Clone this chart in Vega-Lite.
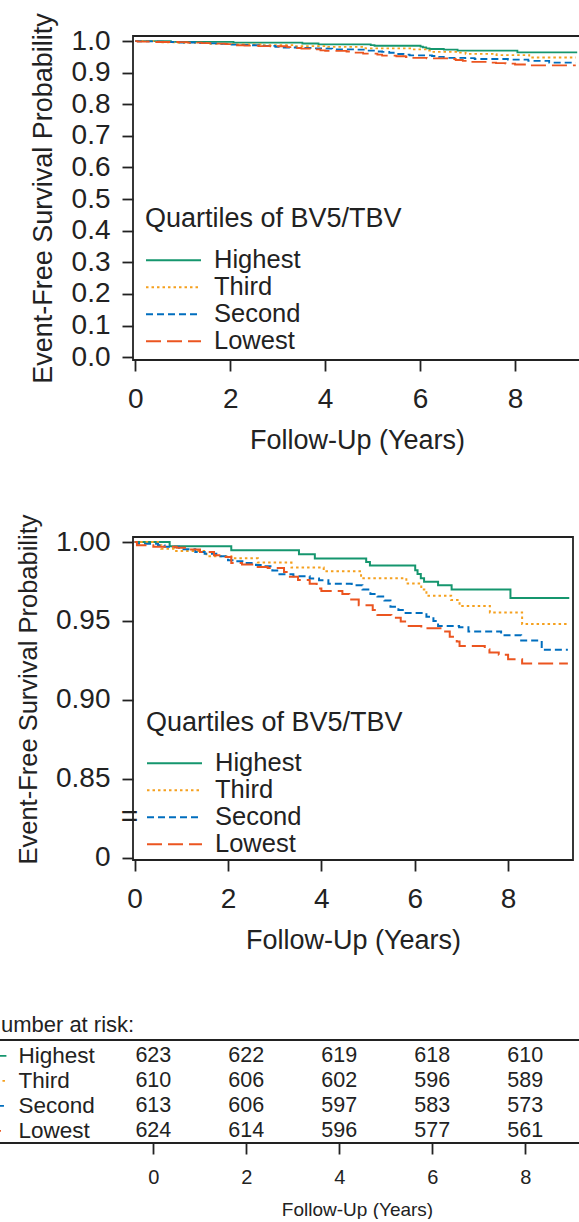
{
  "$schema": "https://vega.github.io/schema/vega-lite/v6.json",
  "padding": {"left": -15, "top": 11, "right": 0, "bottom": 0},
  "background": "white",
  "spacing": 59,
  "config": {
    "font": "Liberation Sans",
    "view": {"stroke": "#222", "strokeWidth": 1.8},
    "axis": {"grid": false, "domain": false, "tickColor": "#222", "tickWidth": 1.8, "tickSize": 11, "labelColor": "#222", "titleColor": "#222", "titleFontWeight": "normal", "labelFont": "Liberation Sans", "titleFont": "Liberation Sans"},
    "legend": {"labelFont": "Liberation Sans", "titleFont": "Liberation Sans", "titleLimit": 500, "labelLimit": 300},
    "text": {"font": "Liberation Sans"}
  },
  "datasets": {
    "km": [
      {"group": "Highest", "t": 0, "s": 1}, {"group": "Highest", "t": 0.75, "s": 0.9973}, {"group": "Highest", "t": 2.07, "s": 0.9948}, {"group": "Highest", "t": 3.52, "s": 0.9922}, {"group": "Highest", "t": 3.86, "s": 0.9895}, {"group": "Highest", "t": 4.96, "s": 0.9874}, {"group": "Highest", "t": 5.04, "s": 0.9851}, {"group": "Highest", "t": 6.01, "s": 0.9822}, {"group": "Highest", "t": 6.06, "s": 0.9798}, {"group": "Highest", "t": 6.13, "s": 0.977}, {"group": "Highest", "t": 6.2, "s": 0.9748}, {"group": "Highest", "t": 6.5, "s": 0.9727}, {"group": "Highest", "t": 6.79, "s": 0.97}, {"group": "Highest", "t": 8.05, "s": 0.9645}, {"group": "Highest", "t": 9.31, "s": 0.9645},
      {"group": "Third", "t": 0, "s": 1}, {"group": "Third", "t": 0.5, "s": 0.998}, {"group": "Third", "t": 0.57, "s": 0.9958}, {"group": "Third", "t": 0.85, "s": 0.9943}, {"group": "Third", "t": 1.54, "s": 0.991}, {"group": "Third", "t": 2.07, "s": 0.9897}, {"group": "Third", "t": 2.64, "s": 0.987}, {"group": "Third", "t": 3.36, "s": 0.9838}, {"group": "Third", "t": 4.05, "s": 0.9815}, {"group": "Third", "t": 4.85, "s": 0.977}, {"group": "Third", "t": 5.82, "s": 0.9737}, {"group": "Third", "t": 6.14, "s": 0.97}, {"group": "Third", "t": 6.25, "s": 0.966}, {"group": "Third", "t": 6.78, "s": 0.9632}, {"group": "Third", "t": 6.96, "s": 0.9595}, {"group": "Third", "t": 7.61, "s": 0.9554}, {"group": "Third", "t": 8.3, "s": 0.948}, {"group": "Third", "t": 9.28, "s": 0.948},
      {"group": "Second", "t": 0, "s": 1}, {"group": "Second", "t": 0.05, "s": 0.999}, {"group": "Second", "t": 0.5, "s": 0.998}, {"group": "Second", "t": 0.64, "s": 0.997}, {"group": "Second", "t": 0.95, "s": 0.9955}, {"group": "Second", "t": 1.3, "s": 0.9937}, {"group": "Second", "t": 1.5, "s": 0.9926}, {"group": "Second", "t": 1.75, "s": 0.991}, {"group": "Second", "t": 2.0, "s": 0.9885}, {"group": "Second", "t": 2.2, "s": 0.9878}, {"group": "Second", "t": 2.4, "s": 0.9867}, {"group": "Second", "t": 2.6, "s": 0.9855}, {"group": "Second", "t": 2.7, "s": 0.9847}, {"group": "Second", "t": 2.95, "s": 0.982}, {"group": "Second", "t": 3.08, "s": 0.9796}, {"group": "Second", "t": 3.4, "s": 0.9784}, {"group": "Second", "t": 3.75, "s": 0.9769}, {"group": "Second", "t": 3.95, "s": 0.9758}, {"group": "Second", "t": 4.15, "s": 0.9735}, {"group": "Second", "t": 4.65, "s": 0.9727}, {"group": "Second", "t": 4.88, "s": 0.97}, {"group": "Second", "t": 5.05, "s": 0.967}, {"group": "Second", "t": 5.2, "s": 0.9655}, {"group": "Second", "t": 5.35, "s": 0.963}, {"group": "Second", "t": 5.48, "s": 0.959}, {"group": "Second", "t": 5.65, "s": 0.957}, {"group": "Second", "t": 5.78, "s": 0.955}, {"group": "Second", "t": 6.25, "s": 0.9527}, {"group": "Second", "t": 6.4, "s": 0.95}, {"group": "Second", "t": 6.5, "s": 0.9468}, {"group": "Second", "t": 6.95, "s": 0.946}, {"group": "Second", "t": 7.15, "s": 0.9433}, {"group": "Second", "t": 7.85, "s": 0.941}, {"group": "Second", "t": 8.28, "s": 0.9376}, {"group": "Second", "t": 8.72, "s": 0.9317}, {"group": "Second", "t": 9.28, "s": 0.9317},
      {"group": "Lowest", "t": 0, "s": 1}, {"group": "Lowest", "t": 0.05, "s": 0.998}, {"group": "Lowest", "t": 0.4, "s": 0.997}, {"group": "Lowest", "t": 0.9, "s": 0.9964}, {"group": "Lowest", "t": 1.1, "s": 0.9952}, {"group": "Lowest", "t": 1.4, "s": 0.9937}, {"group": "Lowest", "t": 1.7, "s": 0.9916}, {"group": "Lowest", "t": 1.9, "s": 0.9905}, {"group": "Lowest", "t": 2.07, "s": 0.9867}, {"group": "Lowest", "t": 2.3, "s": 0.9858}, {"group": "Lowest", "t": 2.6, "s": 0.9842}, {"group": "Lowest", "t": 2.85, "s": 0.9836}, {"group": "Lowest", "t": 3.2, "s": 0.981}, {"group": "Lowest", "t": 3.3, "s": 0.978}, {"group": "Lowest", "t": 3.5, "s": 0.976}, {"group": "Lowest", "t": 3.75, "s": 0.9735}, {"group": "Lowest", "t": 3.9, "s": 0.9705}, {"group": "Lowest", "t": 4.0, "s": 0.969}, {"group": "Lowest", "t": 4.45, "s": 0.967}, {"group": "Lowest", "t": 4.6, "s": 0.9636}, {"group": "Lowest", "t": 4.8, "s": 0.96}, {"group": "Lowest", "t": 5.1, "s": 0.957}, {"group": "Lowest", "t": 5.2, "s": 0.9538}, {"group": "Lowest", "t": 5.5, "s": 0.952}, {"group": "Lowest", "t": 5.7, "s": 0.9496}, {"group": "Lowest", "t": 5.82, "s": 0.9468}, {"group": "Lowest", "t": 6.14, "s": 0.9454}, {"group": "Lowest", "t": 6.6, "s": 0.9433}, {"group": "Lowest", "t": 6.75, "s": 0.94}, {"group": "Lowest", "t": 6.9, "s": 0.937}, {"group": "Lowest", "t": 6.96, "s": 0.9342}, {"group": "Lowest", "t": 7.5, "s": 0.932}, {"group": "Lowest", "t": 7.6, "s": 0.93}, {"group": "Lowest", "t": 7.8, "s": 0.9285}, {"group": "Lowest", "t": 8.0, "s": 0.9258}, {"group": "Lowest", "t": 8.3, "s": 0.923}, {"group": "Lowest", "t": 9.28, "s": 0.923}
    ],
    "risk": [
      {"group": "Highest", "year": 0, "n": 623}, {"group": "Highest", "year": 2, "n": 622}, {"group": "Highest", "year": 4, "n": 619}, {"group": "Highest", "year": 6, "n": 618}, {"group": "Highest", "year": 8, "n": 610},
      {"group": "Third", "year": 0, "n": 610}, {"group": "Third", "year": 2, "n": 606}, {"group": "Third", "year": 4, "n": 602}, {"group": "Third", "year": 6, "n": 596}, {"group": "Third", "year": 8, "n": 589},
      {"group": "Second", "year": 0, "n": 613}, {"group": "Second", "year": 2, "n": 606}, {"group": "Second", "year": 4, "n": 597}, {"group": "Second", "year": 6, "n": 583}, {"group": "Second", "year": 8, "n": 573},
      {"group": "Lowest", "year": 0, "n": 624}, {"group": "Lowest", "year": 2, "n": 614}, {"group": "Lowest", "year": 4, "n": 596}, {"group": "Lowest", "year": 6, "n": 577}, {"group": "Lowest", "year": 8, "n": 561}
    ],
    "groups": [{"group": "Highest"}, {"group": "Third"}, {"group": "Second"}, {"group": "Lowest"}]
  },
  "resolve": {"legend": {"color": "independent", "strokeDash": "independent"}},
  "vconcat": [
    {
      "width": 448, "height": 324,
      "data": {"name": "km"},
      "mark": {"type": "line", "interpolate": "step-after", "strokeWidth": 1.8},
      "encoding": {
        "x": {"field": "t", "type": "quantitative", "scale": {"domain": [-0.048, 9.39], "nice": false, "zero": false},
              "axis": {"values": [0, 2, 4, 6, 8], "labelFontSize": 28, "labelPadding": 14, "title": "Follow-Up (Years)", "titleFontSize": 27, "titlePadding": 14}},
        "y": {"field": "s", "type": "quantitative", "scale": {"domain": [-0.009, 1.016], "nice": false, "zero": false},
              "axis": {"values": [0, 0.1, 0.2, 0.3, 0.4, 0.5, 0.6, 0.7, 0.8, 0.9, 1.0], "format": ".1f", "labelFontSize": 28, "labelPadding": 12, "title": "Event-Free Survival Probability", "titleFontSize": 27, "titlePadding": 14}},
        "color": {"field": "group", "type": "nominal",
                  "scale": {"domain": ["Highest", "Third", "Second", "Lowest"], "range": ["#15966E", "#F5A01E", "#006EBE", "#EB5520"]},
                  "legend": {"title": "Quartiles of BV5/TBV", "orient": "none", "legendX": 12, "legendY": 170, "symbolType": "stroke", "symbolSize": 3025, "symbolStrokeWidth": 1.8, "clipHeight": 25.5, "rowPadding": 0, "labelFontSize": 25.5, "titleFontSize": 27, "titleFontWeight": "normal", "titlePadding": 14.5, "labelOffset": 12, "labelColor": "#222", "titleColor": "#222", "padding": 0}},
        "strokeDash": {"field": "group", "type": "nominal",
                  "scale": {"domain": ["Highest", "Third", "Second", "Lowest"], "range": [[1, 0], [2.5, 3], [7, 4], [15, 6]]},
                  "legend": {"title": "Quartiles of BV5/TBV", "orient": "none", "legendX": 12, "legendY": 170, "symbolType": "stroke", "symbolSize": 3025, "symbolStrokeWidth": 1.8, "clipHeight": 25.5, "rowPadding": 0, "labelFontSize": 25.5, "titleFontSize": 27, "titleFontWeight": "normal", "titlePadding": 14.5, "labelOffset": 12, "labelColor": "#222", "titleColor": "#222", "padding": 0}}
      }
    },
    {
      "width": 440, "height": 323,
      "layer": [
        {
          "data": {"name": "km"},
          "mark": {"type": "line", "interpolate": "step-after", "strokeWidth": 2},
          "encoding": {
            "x": {"field": "t", "type": "quantitative", "scale": {"domain": [-0.035, 9.39], "nice": false, "zero": false},
                  "axis": {"values": [0, 2, 4, 6, 8], "labelFontSize": 28, "labelPadding": 14, "title": "Follow-Up (Years)", "titleFontSize": 27, "titlePadding": 14}},
            "y": {"field": "s", "type": "quantitative", "scale": {"domain": [0.7985, 1.0032], "nice": false, "zero": false},
                  "axis": {"values": [0.8, 0.85, 0.9, 0.95, 1.0], "labelExpr": "datum.value < 0.81 ? '0' : format(datum.value, '.2f')", "labelFontSize": 28, "labelPadding": 12, "title": "Event-Free Survival Probability", "titleFontSize": 25.5, "titlePadding": 14, "titleY": 152}},
            "color": {"field": "group", "type": "nominal",
                      "scale": {"domain": ["Highest", "Third", "Second", "Lowest"], "range": ["#15966E", "#F5A01E", "#006EBE", "#EB5520"]},
                      "legend": {"title": "Quartiles of BV5/TBV", "orient": "none", "legendX": 13, "legendY": 173, "symbolType": "stroke", "symbolSize": 3025, "symbolStrokeWidth": 1.8, "clipHeight": 25.5, "rowPadding": 0, "labelFontSize": 25.5, "titleFontSize": 27, "titleFontWeight": "normal", "titlePadding": 13.5, "labelOffset": 12, "labelColor": "#222", "titleColor": "#222", "padding": 0}},
            "strokeDash": {"field": "group", "type": "nominal",
                      "scale": {"domain": ["Highest", "Third", "Second", "Lowest"], "range": [[1, 0], [2.5, 3], [7, 4], [15, 6]]},
                      "legend": {"title": "Quartiles of BV5/TBV", "orient": "none", "legendX": 13, "legendY": 173, "symbolType": "stroke", "symbolSize": 3025, "symbolStrokeWidth": 1.8, "clipHeight": 25.5, "rowPadding": 0, "labelFontSize": 25.5, "titleFontSize": 27, "titleFontWeight": "normal", "titlePadding": 13.5, "labelOffset": 12, "labelColor": "#222", "titleColor": "#222", "padding": 0}}
          }
        },
        {
          "data": {"values": [{}]},
          "mark": {"type": "text", "text": "=", "fontSize": 30, "color": "#222", "align": "center", "baseline": "middle"},
          "encoding": {
            "x": {"datum": -0.11, "type": "quantitative"},
            "y": {"datum": 0.826, "type": "quantitative"}
          }
        }
      ]
    },
    {
      "width": 448, "height": 103,
      "view": {"stroke": null},
      "resolve": {"scale": {"y": "independent"}},
      "layer": [
        {
          "data": {"name": "risk"},
          "mark": {"type": "text", "fontSize": 21.5, "color": "#222"},
          "encoding": {
            "x": {"field": "year", "type": "quantitative", "scale": {"domain": [-0.437, 9.2], "nice": false, "zero": false},
                  "axis": {"values": [0, 2, 4, 6, 8], "labelFontSize": 20, "labelPadding": 13, "title": "Follow-Up (Years)", "titleFontSize": 19, "titlePadding": 13}},
            "y": {"field": "group", "type": "nominal", "scale": {"type": "point", "domain": ["Highest", "Third", "Second", "Lowest"], "padding": 0.56, "align": 0.57},
                  "axis": {"title": null, "ticks": false, "labelAlign": "left", "labelPadding": 115, "labelFontSize": 22.5}},
            "text": {"field": "n", "type": "quantitative"}
          }
        },
        {
          "data": {"name": "groups"},
          "mark": {"type": "rule", "strokeWidth": 1.8},
          "encoding": {
            "x": {"datum": -3.6, "type": "quantitative", "scale": {"domain": [-0.437, 9.2], "nice": false, "zero": false}},
            "x2": {"datum": -3.16},
            "y": {"field": "group", "type": "nominal", "scale": {"type": "point", "domain": ["Highest", "Third", "Second", "Lowest"], "padding": 0.56, "align": 0.57}, "axis": null},
            "color": {"field": "group", "type": "nominal", "scale": {"domain": ["Highest", "Third", "Second", "Lowest"], "range": ["#15966E", "#F5A01E", "#006EBE", "#EB5520"]}, "legend": null},
            "strokeDash": {"field": "group", "type": "nominal", "scale": {"domain": ["Highest", "Third", "Second", "Lowest"], "range": [[1, 0], [2.5, 3], [7, 4], [15, 6]]}, "legend": null}
          }
        },
        {
          "data": {"values": [{}]},
          "mark": {"type": "rule", "strokeWidth": 1.8, "color": "#222"},
          "encoding": {
            "x": {"datum": -3.6, "type": "quantitative", "scale": {"domain": [-0.437, 9.2], "nice": false, "zero": false}},
            "x2": {"datum": 9.8},
            "y": {"datum": 1, "type": "quantitative", "scale": {"domain": [0, 1], "nice": false, "zero": false}, "axis": null}
          }
        },
        {
          "data": {"values": [{}]},
          "mark": {"type": "rule", "strokeWidth": 1.8, "color": "#222"},
          "encoding": {
            "x": {"datum": -3.6, "type": "quantitative", "scale": {"domain": [-0.437, 9.2], "nice": false, "zero": false}},
            "x2": {"datum": 9.8},
            "y": {"datum": 0, "type": "quantitative", "scale": {"domain": [0, 1], "nice": false, "zero": false}, "axis": null}
          }
        },
        {
          "data": {"values": [{}]},
          "mark": {"type": "text", "text": "Number at risk:", "fontSize": 22, "color": "#222", "align": "left", "baseline": "middle"},
          "encoding": {
            "x": {"datum": -3.62, "type": "quantitative", "scale": {"domain": [-0.437, 9.2], "nice": false, "zero": false}},
            "y": {"datum": 1.15, "type": "quantitative", "scale": {"domain": [0, 1], "nice": false, "zero": false}, "axis": null}
          }
        }
      ]
    }
  ]
}
